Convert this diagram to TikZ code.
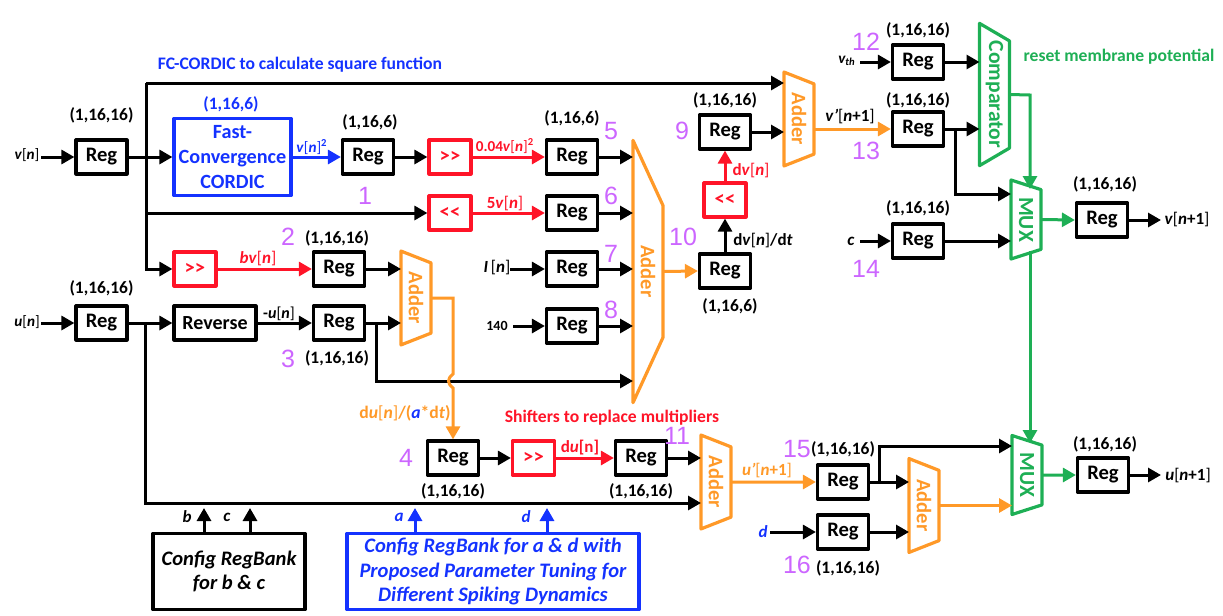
\documentclass[tikz,border=0pt]{standalone}
\usepackage{fontspec}
\setmainfont{Carlito}
\newfontfamily\numfont{Liberation Sans}
\usepackage{xcolor}
\usepackage{tikz}
\usetikzlibrary{shapes.geometric, arrows.meta, positioning}
\definecolor{cRed}{RGB}{255,20,40}
\definecolor{cBlue}{RGB}{20,50,255}
\definecolor{cOrange}{RGB}{255,153,40}
\definecolor{cGreen}{RGB}{30,175,85}
\definecolor{cNum}{RGB}{204,102,255}
\newcommand{\nn}{\textmd{[}\textit{n}\textmd{]}}
\newcommand{\np}{\textmd{[}\textit{n}+1\textmd{]}}
\tikzstyle{reg} = [draw=black, line width=1.6pt, line join=round, minimum width=25.5pt, minimum height=17pt, inner sep=0pt, font=\fontsize{10.3}{12}\selectfont\bfseries]
\tikzstyle{shifter} = [reg, draw=cRed, text=cRed, minimum width=21pt]
\tikzstyle{bigbox} = [draw=black, line width=1.6pt, line join=round, inner sep=0pt, align=center, font=\fontsize{10.3}{12.4}\selectfont\bfseries\itshape]
\tikzstyle{trap} = [trapezium, rotate=-90, trapezium stretches=true, line width=1.6pt, line join=round, inner sep=0pt, outer sep=0pt, minimum height=15pt, font=\fontsize{10.3}{12}\selectfont\bfseries]
\tikzstyle{adder} = [trap, draw=cOrange, text=cOrange, minimum width=47pt, trapezium left angle=59, trapezium right angle=59]
\tikzstyle{mux} = [trap, draw=cGreen, text=cGreen, minimum width=39.5pt, trapezium left angle=63, trapezium right angle=63, font=\fontsize{10.8}{12}\selectfont\bfseries]
\tikzstyle{dim} = [inner sep=0pt, font=\fontsize{8.7}{10}\selectfont\bfseries]
\tikzstyle{caption} = [inner sep=0pt, font=\fontsize{8.8}{10}\selectfont\bfseries]
\tikzstyle{lab} = [inner sep=0pt, font=\fontsize{8.5}{10}\selectfont\bfseries]
\tikzstyle{labsmall} = [inner sep=0pt, font=\fontsize{7.6}{9}\selectfont\bfseries]
\tikzstyle{num} = [inner sep=0pt, text=cNum, font=\fontsize{12.5}{14}\numfont]
\tikzstyle{wire} = [line width=1.5pt, -{Triangle[length=6.5pt,width=7pt]}]
\tikzstyle{bus} = [line width=1.5pt]

\begin{document}
\begin{tikzpicture}[x=0.5pt,y=-0.5pt]
  \useasboundingbox (0,-1) rectangle (1223,615);

  % registers, named after the purple numbers
  \node[reg] (reg-vin) at (101.5,156) {Reg};
  \node[reg] (reg-uin) at (101.5,322) {Reg};
  \node[reg] (reg-1) at (368,156) {Reg};
  \node[reg] (reg-2) at (339,268) {Reg};
  \node[reg] (reg-3) at (339,322) {Reg};
  \node[reg] (reg-4) at (453,457) {Reg};
  \node[reg] (reg-5) at (572,156) {Reg};
  \node[reg] (reg-6) at (572,212) {Reg};
  \node[reg] (reg-7) at (572,268) {Reg};
  \node[reg] (reg-8) at (572,325) {Reg};
  \node[reg] (reg-9) at (725,131) {Reg};
  \node[reg] (reg-10) at (725,270) {Reg};
  \node[reg] (reg-11) at (641,457) {Reg};
  \node[reg] (reg-12) at (918,61) {Reg};
  \node[reg] (reg-13) at (918,128) {Reg};
  \node[reg] (reg-14) at (918,240) {Reg};
  \node[reg] (reg-15) at (843,481) {Reg};
  \node[reg] (reg-16) at (843,531) {Reg};
  \node[reg] (reg-vout) at (1102,219) {Reg};
  \node[reg] (reg-uout) at (1103,474) {Reg};
  \node[reg, minimum width=41pt, font=\fontsize{10}{12}\selectfont\bfseries] (reverse) at (215,322) {Reverse};

  % shifters
  \node[shifter] (shift-sq) at (450,156) {>{}>};
  \node[shifter] (shift-five) at (450,212) {<{}<};
  \node[shifter] (shift-b) at (195,268) {>{}>};
  \node[shifter] (shift-du) at (533.5,457) {>{}>};
  \node[shifter] (shift-dv) at (725,199) {<{}<};

  % big boxes
  \node[reg, draw=cBlue, text=cBlue, align=center, minimum width=58.5pt, minimum height=38.5pt, font=\fontsize{10.1}{12.3}\selectfont\bfseries] (cordic) at (232.5,156) {Fast-\\Convergence\\CORDIC};
  \node[bigbox, minimum width=76pt, minimum height=38pt] (bank-bc) at (229,570.5) {Config RegBank\\for \textit{b} \& \textit{c}};
  \node[bigbox, draw=cBlue, text=cBlue, minimum width=146pt, minimum height=38pt] (bank-ad) at (493,570.5) {Config RegBank for \textit{a} \& \textit{d} with\\Proposed Parameter Tuning for\\Different Spiking Dynamics};

  % adders and muxes
  \node[adder] (add-a) at (416,297) {Adder};
  \node[adder, minimum width=131.5pt, trapezium left angle=29.5, trapezium right angle=29.5] (add-big) at (648,270.5) {Adder};
  \node[adder] (add-c) at (799,118) {Adder};
  \node[adder] (add-d) at (716,481) {Adder};
  \node[adder] (add-e) at (924,504.5) {Adder};
  \node[mux, minimum width=71.5pt, trapezium left angle=45, trapezium right angle=45] (comp) at (994.5,93.5) {Comparator};
  \node[mux] (mux-v) at (1026,218.5) {MUX};
  \node[mux] (mux-u) at (1027,474) {MUX};

  % free ends
  \coordinate (in-v) at (41,156);
  \coordinate (in-u) at (41,322);
  \coordinate (in-i) at (510,268);
  \coordinate (in-k) at (513,325);
  \coordinate (in-th) at (860,61);
  \coordinate (in-c) at (860,240);
  \coordinate (in-d) at (770,531);
  \coordinate (out-v) at (1161,219);
  \coordinate (out-u) at (1161,474);
  \coordinate (bus-v) at (146,156);
  \coordinate (bus-top) at (146,82);
  \coordinate (bus-u) at (145,322);
  \coordinate (bus-low) at (145,502);
  \coordinate (bus-3) at (376,322);
  \coordinate (bus-low3) at (376,380);
  \coordinate (bus-13) at (955,128);
  \coordinate (bus-15) at (879,481);
  \coordinate (jump-top) at (453,373);
  \coordinate (jump-bot) at (453,387);
  \coordinate (comp-out) at (1030,94);
  \coordinate (mux-v-top) at (1030,188);
  \coordinate (mux-v-bot) at (1030,250);
  \coordinate (mux-u-top) at (1030,442);
  \coordinate (pin-b) at (204,507);
  \coordinate (pin-c) at (250,507);
  \coordinate (pin-a) at (415,507);
  \coordinate (pin-d) at (547,507);

  % black wires
  \draw[wire] (in-v) -- (reg-vin.west);
  \draw[wire] (reg-vin.east) -- (cordic.west);
  \draw[bus] (bus-v) -- (bus-top);
  \draw[wire] (bus-top) -- (bus-top -| add-c.south);
  \draw[wire] (bus-v) |- (shift-five.west);
  \draw[wire] (bus-v) |- (shift-b.west);
  \draw[wire] (reg-1.east) -- (shift-sq.west);
  \draw[wire] (reg-2.east) -- (reg-2 -| add-a.south);
  \draw[wire] (in-u) -- (reg-uin.west);
  \draw[wire] (reg-uin.east) -- (reverse.west);
  \draw[wire] (reverse.east) -- (reg-3.west);
  \draw[wire] (reg-3.east) -- (reg-3 -| add-a.south);
  \draw[wire] (bus-3) -- (bus-low3) -- (bus-low3 -| add-big.south);
  \draw[wire] (bus-u) -- (bus-low) -- (bus-low -| add-d.south);
  \draw[wire] (reg-5.east) -- (reg-5 -| add-big.south);
  \draw[wire] (reg-6.east) -- (reg-6 -| add-big.south);
  \draw[wire] (reg-7.east) -- (reg-7 -| add-big.south);
  \draw[wire] (reg-8.east) -- (reg-8 -| add-big.south);
  \draw[wire] (in-i) -- (reg-7.west);
  \draw[wire] (in-k) -- (reg-8.west);
  \draw[wire] (reg-10.north) -- (shift-dv.south);
  \draw[wire] (reg-9.east) -- (reg-9 -| add-c.south);
  \draw[wire] (reg-4.east) -- (shift-du.west);
  \draw[wire] (reg-11.east) -- (reg-11 -| add-d.south);
  \draw[wire] (in-th) -- (reg-12.west);
  \draw[wire] (reg-12.east) -- (reg-12 -| comp.south);
  \draw[wire] (reg-13.east) -- (reg-13 -| comp.south);
  \draw[wire] (bus-13) |- ([yshift=12.75pt]mux-v.south);
  \draw[wire] (in-c) -- (reg-14.west);
  \draw[wire] (reg-14.east) -- (reg-14 -| mux-v.south);
  \draw[wire] (reg-vout.east) -- (out-v);
  \draw[wire] (reg-uout.east) -- (out-u);
  \draw[wire] (reg-15.east) -- (reg-15 -| add-e.south);
  \draw[wire] (bus-15) |- ([yshift=14.5pt]mux-u.south);
  \draw[wire] (in-d) -- (reg-16.west);
  \draw[wire] (reg-16.east) -- (reg-16 -| add-e.south);
  \draw[wire] (bank-bc.north -| pin-b) -- (pin-b);
  \draw[wire] (bank-bc.north -| pin-c) -- (pin-c);

  % coloured wires
  \draw[wire, cBlue] (cordic.east) -- (reg-1.west);
  \draw[wire, cBlue] (bank-ad.north -| pin-a) -- (pin-a);
  \draw[wire, cBlue] (bank-ad.north -| pin-d) -- (pin-d);
  \draw[wire, cRed] (shift-sq.east) -- (reg-5.west);
  \draw[wire, cRed] (shift-five.east) -- (reg-6.west);
  \draw[wire, cRed] (shift-b.east) -- (reg-2.west);
  \draw[wire, cRed] (shift-du.east) -- (reg-11.west);
  \draw[wire, cRed] (shift-dv.north) -- (reg-9.south);
  \draw[wire, cOrange] (add-a.north) -| (jump-top) .. controls (447,378) and (447,382) .. (jump-bot) -- (reg-4.north);
  \draw[wire, cOrange] (add-big.north) -- (reg-10.west);
  \draw[wire, cOrange] (reg-13 -| add-c.north) -- (reg-13.west);
  \draw[wire, cOrange] (add-d.north) -- (reg-15.west);
  \draw[wire, cOrange] (add-e.north) -- (add-e.north -| mux-u.south);
  \draw[wire, cGreen] (comp.north) -- (comp-out) -- (mux-v-top);
  \draw[wire, cGreen] (mux-v-bot) -- (mux-u-top);
  \draw[wire, cGreen] (mux-v.north) -- (reg-vout.west);
  \draw[wire, cGreen] (mux-u.north) -- (reg-uout.west);

  % sizes of the registers
  \node[dim, above=7.5pt of reg-vin] (dim-vin) {(1,16,16)};
  \node[dim, above=4pt of reg-uin] (dim-uin) {(1,16,16)};
  \node[dim, above=4pt of reg-1, xshift=1pt] (dim-1) {(1,16,6)};
  \node[dim, above=2pt of reg-2, xshift=-1pt] (dim-2) {(1,16,16)};
  \node[dim, below=4.5pt of reg-3, xshift=-1pt] (dim-3) {(1,16,16)};
  \node[dim, below=3.5pt of reg-4] (dim-4) {(1,16,16)};
  \node[dim, above=6pt of reg-5] (dim-5) {(1,16,6)};
  \node[dim, above=2.5pt of reg-9] (dim-9) {(1,16,16)};
  \node[dim, below=4.5pt of reg-10, xshift=2.5pt] (dim-10) {(1,16,6)};
  \node[dim, below=3.5pt of reg-11] (dim-11) {(1,16,16)};
  \node[dim, above=2.5pt of reg-12] (dim-12) {(1,16,16)};
  \node[dim, above=1pt of reg-13] (dim-13) {(1,16,16)};
  \node[dim, above=3pt of reg-14] (dim-14) {(1,16,16)};
  \node[dim, above=3pt of reg-15] (dim-15) {(1,16,16)};
  \node[dim, below=5pt of reg-16, xshift=2.5pt] (dim-16) {(1,16,16)};
  \node[dim, above=4.5pt of reg-vout, xshift=1.5pt] (dim-vout) {(1,16,16)};
  \node[dim, above=2pt of reg-uout, xshift=1pt] (dim-uout) {(1,16,16)};
  \node[dim, text=cBlue] (dim-cordic) at (231,103) {(1,16,6)};

  % numbers
  \node[num] (num-1) at (365,195) {1};
  \node[num] (num-2) at (288,236) {2};
  \node[num] (num-3) at (288,358) {3};
  \node[num] (num-4) at (406,457) {4};
  \node[num] (num-5) at (611,130) {5};
  \node[num] (num-6) at (611,195) {6};
  \node[num] (num-7) at (611,253) {7};
  \node[num] (num-8) at (611,309) {8};
  \node[num] (num-9) at (682,130) {9};
  \node[num] (num-10) at (683,236) {10};
  \node[num] (num-11) at (677,435) {11};
  \node[num] (num-12) at (866,41) {12};
  \node[num] (num-13) at (866,150) {13};
  \node[num] (num-14) at (866,268) {14};
  \node[num] (num-15) at (797,448) {15};
  \node[num] (num-16) at (797,564) {16};

  % signal labels
  \node[labsmall] (lab-vn) at (27,154) {\textit{v}\nn};
  \node[labsmall] (lab-un) at (27,321) {\textit{u}\nn};
  \node[labsmall, text=cBlue] (lab-sq) at (312,146) {\textit{v}\nn\textsuperscript{2}};
  \node[lab, text=cRed] (lab-bv) at (258,258) {\textit{bv}\nn};
  \node[labsmall, font=\fontsize{8}{10}\selectfont\bfseries] (lab-mu) at (279,313) {-\textit{u}\nn};
  \node[labsmall, text=cRed] (lab-004) at (505,145) {0.04\textit{v}\nn\textsuperscript{2}};
  \node[lab, text=cRed] (lab-5v) at (505,203) {5\textit{v}\nn};
  \node[lab] (lab-in) at (497,267) {\textit{I}\,\nn};
  \node[labsmall, font=\fontsize{7}{9}\selectfont\bfseries] (lab-140) at (497,325) {140};
  \node[lab, text=cRed] (lab-dv) at (751,170) {d\textit{v}\nn};
  \node[lab] (lab-dvdt) at (763,240) {d\textit{v}\nn/d\textit{t}};
  \node[lab, text=cOrange, font=\fontsize{8.8}{10}\selectfont\bfseries] (lab-du) at (405,412) {d\textit{u}\nn/(\textcolor{cBlue}{\textit{a}}*d\textit{t})};
  \node[lab, text=cRed] (lab-dun) at (580,447) {d\textit{u}[n]};
  \node[lab] (lab-vp) at (850,116) {\textit{v'}\np};
  \node[lab, text=cOrange] (lab-up) at (767,470) {\textit{u'}\np};
  \node[labsmall] (lab-vth) at (847,60) {\textit{v\textsubscript{th}}};
  \node[lab] (lab-c) at (851,240) {\textit{c}};
  \node[lab, text=cBlue] (lab-d) at (763,531) {\textit{d}};
  \node[lab] (lab-vout) at (1187,219) {\textit{v}\np};
  \node[lab] (lab-uout) at (1188,475) {\textit{u}\np};
  \node[lab] (lab-pb) at (187,516) {\textit{b}};
  \node[lab] (lab-pc) at (227,516) {\textit{c}};
  \node[lab, text=cBlue] (lab-pa) at (399,516) {\textit{a}};
  \node[lab, text=cBlue] (lab-pd) at (526,516) {\textit{d}};

  % captions
  \node[caption, text=cBlue] (cap-fc) at (300,64) {FC-CORDIC to calculate square function};
  \node[caption, text=cRed] (cap-shift) at (612,417) {Shifters to replace multipliers};
  \node[caption, text=cGreen] (cap-reset) at (1119,56) {reset membrane potential};
\end{tikzpicture}
\end{document}
